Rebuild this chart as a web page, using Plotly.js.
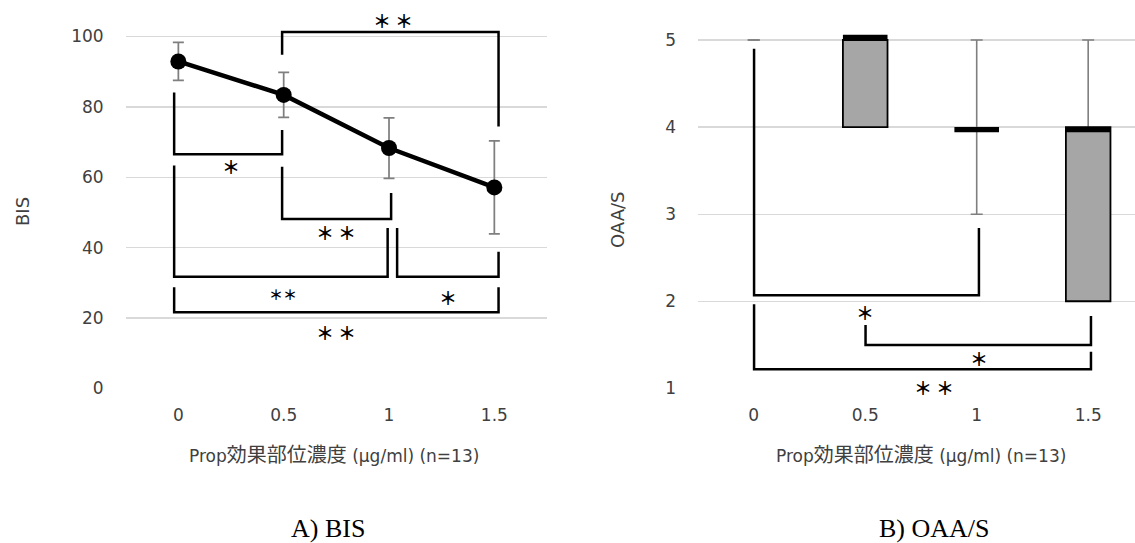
<!DOCTYPE html>
<html>
<head>
<meta charset="utf-8">
<script src="https://cdn.plot.ly/plotly-3.0.1.min.js"></script>
<style>
  html, body { margin: 0; padding: 0; background: #fff; }
  #chart { width: 1135px; height: 543px; }
</style>
</head>
<body>
<div id="chart"></div>
<script>
// Dose levels (effect-site concentration) shared by both panels
const doseLabels = ['0', '0.5', '1', '1.5'];

// Panel A: BIS mean and SD
const bisMean = [92.9, 83.4, 68.3, 57.1];
const bisSD = [5.4, 6.4, 8.6, 13.2];
const bisTicks = [0, 20, 40, 60, 80, 100];

// Panel B: OAA/S five-number summary
const oaaMin = [5, 4, 3, 2];
const oaaQ1 = [5, 4, 4, 2];
const oaaMedian = [5, 5, 4, 4];
const oaaQ3 = [5, 5, 4, 4];
const oaaMax = [5, 5, 5, 5];
const oaaTicks = [1, 2, 3, 4, 5];

// Texts (x title: latin / kanji / unit parts, the kanji set slightly larger)
const xTitleParts = ['Prop', '効果部位濃度', ' (μg/ml) (n=13)'];
const yTitleA = 'BIS';
const yTitleB = 'OAA/S';
const captionA = 'A) BIS';
const captionB = 'B) OAA/S';

const W = 1135, H = 543;
const xDom = (l, r) => [l / W, r / W];
const yDom = (top, bottom) => [1 - bottom / H, 1 - top / H];
const idx = doseLabels.map((_, i) => i);

const sansFont = 'DejaVu Sans, Noto Sans CJK JP, sans-serif';
const textGrey = '#404040';
const tickFont = { family: sansFont, size: 17, color: textGrey };
const starFont = { family: 'Noto Sans CJK JP, sans-serif', size: 18, color: '#000', weight: 'bold' };
const xTitle = xTitleParts[0] + '<span style="font-size:20px">' + xTitleParts[1] + '</span>' + xTitleParts[2];

const whiskerGrey = '#7f7f7f';
const whiskerW = 1.6 / 111.5;   // about 1.6 px on panel B's category scale
const zeros = idx.map(() => 0);
const whiskerCap = { type: 'data', array: zeros, visible: true, color: whiskerGrey, thickness: 1.5, width: 6 };

const traces = [
  // A: mean line with SD error bars
  {
    type: 'scatter', xaxis: 'x', yaxis: 'y',
    x: idx, y: bisMean, mode: 'lines+markers',
    line: { color: '#000', width: 4.5 },
    marker: { color: '#000', size: 16 },
    error_y: { type: 'data', array: bisSD, visible: true, color: whiskerGrey, thickness: 1.75, width: 5.5 },
    hoverinfo: 'skip', showlegend: false
  },
  // B: upper whisker Q3 -> max, capped at max
  {
    type: 'bar', xaxis: 'x2', yaxis: 'y2',
    x: idx, base: oaaQ3, y: oaaMax.map((v, i) => v - oaaQ3[i]), width: whiskerW,
    marker: { color: whiskerGrey, line: { width: 0 } }, error_y: whiskerCap,
    hoverinfo: 'skip', showlegend: false
  },
  // B: lower whisker Q1 -> min, capped at min
  {
    type: 'bar', xaxis: 'x2', yaxis: 'y2',
    x: idx, base: oaaQ1, y: oaaMin.map((v, i) => v - oaaQ1[i]), width: whiskerW,
    marker: { color: whiskerGrey, line: { width: 0 } }, error_y: whiskerCap,
    hoverinfo: 'skip', showlegend: false
  },
  // B: interquartile boxes
  {
    type: 'bar', xaxis: 'x2', yaxis: 'y2',
    x: idx,
    y: oaaQ3.map((v, i) => (v - oaaQ1[i]) > 0 ? v - oaaQ1[i] : null),
    base: oaaQ1, width: 0.4,
    marker: { color: '#a6a6a6', line: { color: '#000', width: 1.8 } },
    hoverinfo: 'skip', showlegend: false
  },
  // B: median marks (only where the scores spread)
  {
    type: 'bar', xaxis: 'x2', yaxis: 'y2',
    x: idx,
    y: oaaMedian.map((v, i) => oaaMax[i] > oaaMin[i] ? 0.06 : null),
    base: oaaMedian.map((v, i) => v < oaaMax[i] ? v - 0.06 : v), width: 0.4,
    marker: { color: '#000', line: { width: 0 } },
    hoverinfo: 'skip', showlegend: false
  }
];

// Significance brackets: [x, y] vertices
const bracketsA = [
  [[0.985, 94.8], [0.985, 101.3], [3.04, 101.3], [3.04, 74.4]],
  [[-0.04, 84.1], [-0.04, 66.5], [0.985, 66.5], [0.985, 73.4]],
  [[0.985, 63.0], [0.985, 48.1], [2.02, 48.1], [2.02, 55.5]],
  [[-0.04, 63.3], [-0.04, 31.7], [1.987, 31.7], [1.987, 45.6]],
  [[2.077, 45.6], [2.077, 31.7], [3.04, 31.7], [3.04, 38.8]],
  [[-0.04, 28.7], [-0.04, 21.6], [3.04, 21.6], [3.04, 28.7]]
];
const bracketsB = [
  [[0.003, 4.90], [0.003, 2.07], [2.02, 2.07], [2.02, 2.84]],
  [[1.003, 1.727], [1.003, 1.497], [3.025, 1.497], [3.025, 1.83]],
  [[0.003, 1.964], [0.003, 1.218], [3.025, 1.218], [3.025, 1.42]]
];
const toPath = pts => pts.map((p, i) => (i ? 'L' : 'M') + p[0] + ',' + p[1]).join(' ');
const shapes = [];
bracketsA.forEach(b => shapes.push({ type: 'path', xref: 'x', yref: 'y', path: toPath(b), line: { color: '#000', width: 2.5 } }));
bracketsB.forEach(b => shapes.push({ type: 'path', xref: 'x2', yref: 'y2', path: toPath(b), line: { color: '#000', width: 2.5 } }));

const star = (xref, yref, x, y, text, extra) => Object.assign({
  xref, yref, x, y, text, showarrow: false, xanchor: 'center', yanchor: 'middle', font: starFont
}, extra || {});

const titleFont = { family: sansFont, size: 18, color: textGrey };
const annotations = [
  star('x', 'y', 2.04, 101.3, '＊ ＊', { yshift: 12 }),
  star('x', 'y', 0.5, 63.3, '＊'),
  star('x', 'y', 1.5, 44.4, '＊ ＊'),
  star('x', 'y', 0.99, 26.8, '＊＊', { font: Object.assign({}, starFont, { size: 14 }) }),
  star('x', 'y', 2.56, 26.0, '＊'),
  star('x', 'y', 1.5, 16.0, '＊ ＊'),
  star('x2', 'y2', 1.0, 1.88, '＊'),
  star('x2', 'y2', 2.02, 1.344, '＊'),
  star('x2', 'y2', 1.615, 1.018, '＊ ＊'),
  // axis titles
  { xref: 'paper', yref: 'paper', x: 22 / W, y: 1 - 212 / H, text: yTitleA, textangle: -90, showarrow: false,
    xanchor: 'center', yanchor: 'middle', font: titleFont },
  { xref: 'paper', yref: 'paper', x: 617 / W, y: 1 - 220 / H, text: yTitleB, textangle: -90, showarrow: false,
    xanchor: 'center', yanchor: 'middle', font: titleFont },
  { xref: 'paper', yref: 'paper', x: 334 / W, y: 1 - 455 / H, text: xTitle, showarrow: false,
    xanchor: 'center', yanchor: 'middle', font: { family: sansFont, size: 17, color: textGrey } },
  { xref: 'paper', yref: 'paper', x: 920.5 / W, y: 1 - 455 / H, text: xTitle, showarrow: false,
    xanchor: 'center', yanchor: 'middle', font: { family: sansFont, size: 17, color: textGrey } },
  // panel captions
  { xref: 'paper', yref: 'paper', x: 328 / W, y: 1 - 528 / H, text: captionA, showarrow: false,
    xanchor: 'center', yanchor: 'middle', font: { family: 'Liberation Serif, serif', size: 26, color: '#000' } },
  { xref: 'paper', yref: 'paper', x: 934 / W, y: 1 - 528 / H, text: captionB, showarrow: false,
    xanchor: 'center', yanchor: 'middle', font: { family: 'Liberation Serif, serif', size: 26, color: '#000' } }
];

const xCommon = {
  tickmode: 'array', tickvals: idx, ticktext: doseLabels,
  showgrid: false, zeroline: false, showline: false, ticks: '',
  tickfont: tickFont, ticklabelstandoff: 15, fixedrange: true
};
const yCommon = {
  tickmode: 'array', gridcolor: '#d9d9d9', gridwidth: 1.3,
  zeroline: false, showline: false, ticks: '',
  tickfont: tickFont, ticklabelstandoff: 21, fixedrange: true
};

const layout = {
  width: W, height: H,
  margin: { l: 0, r: 0, t: 0, b: 0 },
  paper_bgcolor: '#fff', plot_bgcolor: 'rgba(0,0,0,0)',
  showlegend: false, barmode: 'overlay',
  xaxis: Object.assign({}, xCommon, { domain: xDom(125.7, 547), range: [-0.5, 3.5], anchor: 'y' }),
  yaxis: Object.assign({}, yCommon, { domain: yDom(25.95, 388.3), range: [0, 103], tickvals: bisTicks, anchor: 'x' }),
  xaxis2: Object.assign({}, xCommon, { domain: xDom(698, 1135), range: [-0.5, 3.42], anchor: 'y2' }),
  yaxis2: Object.assign({}, yCommon, { domain: yDom(31.3, 388.3), range: [1, 5.1], tickvals: oaaTicks, anchor: 'x2' }),
  shapes, annotations
};

Plotly.newPlot('chart', traces, layout, { displayModeBar: false, staticPlot: true });
</script>
</body>
</html>
